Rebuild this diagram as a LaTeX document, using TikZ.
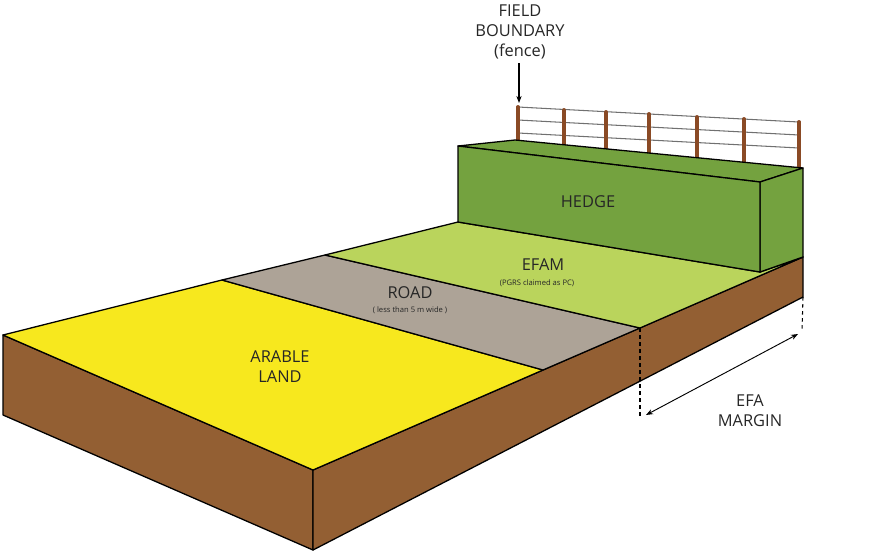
\documentclass[tikz,border=0pt]{standalone}
\usepackage{fontspec}
\setmainfont{Open Sans}
\usetikzlibrary{arrows.meta}
\definecolor{arablec}{HTML}{F7E81E}
\definecolor{roadc}{HTML}{ADA397}
\definecolor{efamc}{HTML}{BAD45C}
\definecolor{hedgec}{HTML}{74A23F}
\definecolor{soilc}{HTML}{935F33}
\definecolor{postc}{HTML}{8A4A25}
\definecolor{railc}{HTML}{707070}
\tikzset{
  face/.style={draw=black,line width=1.1pt,line join=round},
  lbl/.style={font=\fontsize{14}{17}\selectfont,align=center,text=black!85},
  small/.style={font=\fontsize{6.5}{8}\selectfont,text=black!85},
  guide/.style={dashed,line width=0.9pt},
  dim/.style={{Stealth[length=6pt]}-{Stealth[length=6pt]},line width=0.8pt}
}
\begin{document}
\begin{tikzpicture}[x=0.03cm,y=-0.03cm]
\useasboundingbox (0,0) rectangle (874,555);
% corners of the slab
\coordinate (tl) at (3,335);
\coordinate (tf) at (313,470);
\coordinate (tr) at (803,257);
\coordinate (bl) at (3,415);
\coordinate (bf) at (313,550);
\coordinate (br) at (803,297);
% soil faces
\filldraw[face,fill=soilc] (tl) -- (tf) -- (bf) -- (bl) -- cycle;
\filldraw[face,fill=soilc] (tf) -- (tr) -- (br) -- (bf) -- cycle;
% strips on top
\filldraw[face,fill=arablec] (tl) -- (222,280) -- (543,370) -- (tf) -- cycle;
\filldraw[face,fill=roadc] (222,280) -- (325,255) -- (640,328) -- (543,370) -- cycle;
\filldraw[face,fill=efamc] (325,255) -- (458,222) -- (760,272) -- (tr) -- (640,328) -- cycle;
% fence
\foreach \x/\t/\b in {518/107/140,564/110/145,606/112/149,649/114/153,697/117/158,744/119/163,799/122/168}{
  \draw[postc,line width=3pt,line cap=round] (\x,\t) -- (\x,\b);
}
\foreach \d in {0,13,26}{
  \draw[railc,line width=0.9pt] (518,107+\d) -- (799,122+\d);
}
\foreach \x/\t/\b in {518/107/140,564/110/145,606/112/149,649/114/153,697/117/158,744/119/163,799/122/168}{
  \draw[postc,line width=3pt,line cap=round] (\x,\t) -- (\x,\b);
}
% hedge
\filldraw[face,fill=hedgec] (458,146) -- (515,140) -- (803,168) -- (760,182) -- cycle;
\filldraw[face,fill=hedgec] (760,182) -- (803,168) -- (tr) -- (760,272) -- cycle;
\filldraw[face,fill=hedgec] (458,146) -- (760,182) -- (760,272) -- (458,222) -- cycle;
% labels
\node[lbl] (arable) at (280,367) {ARABLE\\LAND};
\node[lbl] (road) at (410,293) {ROAD};
\node[small] (roadw) at (410,310) {( less than 5 m wide )};
\node[lbl] (efam) at (543,265) {EFAM};
\node[small] (efamc) at (537,283) {(PGRS claimed as PC)};
\node[lbl] (hedge) at (588,202) {HEDGE};
\node[lbl] (field) at (520,32) {FIELD\\BOUNDARY\\(fence)};
\coordinate (fencetop) at (519,103);
\draw[-{Stealth[length=6pt]},line width=0.9pt] (field.south -| fencetop) -- (fencetop);
% margin
\coordinate (mleft) at (640,328);
\draw[guide] (mleft) -- (640,418);
\draw[guide] (br) -- (802,330);
\coordinate (mA) at (646,415);
\coordinate (mB) at (798,334);
\draw[dim] (mA) -- (mB);
\node[lbl] (margin) at (750,411) {EFA\\MARGIN};
\end{tikzpicture}
\end{document}
